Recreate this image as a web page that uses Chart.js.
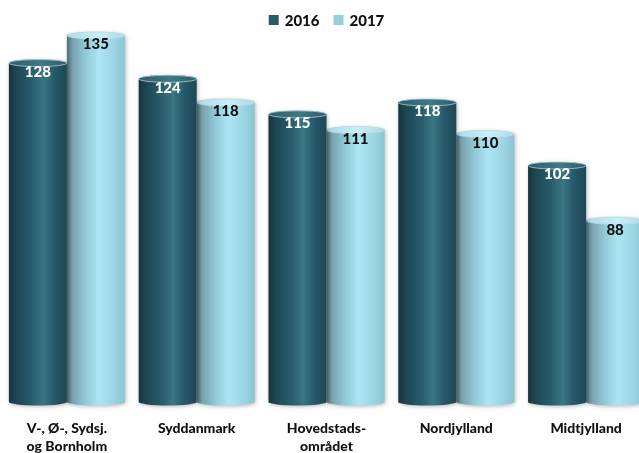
<!DOCTYPE html>
<html lang="da">
<head>
<meta charset="utf-8">
<title>2016 / 2017</title>
<script src="https://cdn.jsdelivr.net/npm/chart.js@4/dist/chart.umd.min.js"></script>
<style>
  html, body { margin: 0; padding: 0; background: #ffffff; overflow: hidden; }
  #wrap { position: absolute; left: 0; top: 0; width: 652px; height: 453px; }
</style>
</head>
<body>
<div id="wrap"><canvas id="chart"></canvas></div>
<script>
// Regions shown along the category axis
const regions = [
  ['V-, Ø-, Sydsj.', 'og Bornholm'],
  ['Syddanmark'],
  ['Hovedstads-', 'området'],
  ['Nordjylland'],
  ['Midtjylland']
];
const seriesNames = ['2016', '2017'];
const values2016 = [128, 124, 115, 118, 102];
const values2017 = [135, 118, 111, 110, 88];

// Cylinder shading: horizontal gradient stops and cap colours per series
const shading = [
  {
    body: [[0, '#15343e'], [0.12, '#1d4652'], [0.4, '#285d6b'], [0.6, '#3b7682'], [0.78, '#27596a'], [1, '#1d4753']],
    cap: ['#2a5e6b', '#3f7a87'],
    label: '#ffffff'
  },
  {
    body: [[0, '#4d6e78'], [0.1, '#79a3af'], [0.32, '#92c9d6'], [0.55, '#ace5f3'], [0.8, '#9cd6e4'], [1, '#8bc3d1']],
    cap: ['#a9dbe7', '#c6f0fa'],
    label: '#111111'
  }
];

const CAP_RY = 3.5;
const TEXT_FONT = 'Lato';

function drawCylinder(ctx, bar, bottom, style) {
  const { x, y, width } = bar.getProps(['x', 'y', 'width'], true);
  const base = bottom;
  const l = x - width / 2, r = x + width / 2, rx = width / 2;
  const g = ctx.createLinearGradient(l, 0, r, 0);
  style.body.forEach(([o, c]) => g.addColorStop(o, c));
  ctx.save();
  ctx.shadowColor = 'rgba(0,0,0,0.28)';
  ctx.shadowBlur = 4;
  ctx.shadowOffsetX = 1;
  ctx.shadowOffsetY = 1;
  ctx.beginPath();
  ctx.moveTo(l, y);
  ctx.lineTo(l, base);
  ctx.ellipse(x, base, rx, CAP_RY, 0, Math.PI, 0, true);
  ctx.lineTo(r, y);
  ctx.ellipse(x, y, rx, CAP_RY, 0, 0, Math.PI, true);
  ctx.closePath();
  ctx.fillStyle = g;
  ctx.fill();
  ctx.restore();

  // top cap
  const cg = ctx.createLinearGradient(l, 0, r, 0);
  cg.addColorStop(0, style.cap[0]);
  cg.addColorStop(0.55, style.cap[1]);
  cg.addColorStop(1, style.cap[0]);
  ctx.save();
  ctx.beginPath();
  ctx.ellipse(x, y, rx, CAP_RY, 0, 0, Math.PI * 2);
  ctx.fillStyle = cg;
  ctx.fill();
  ctx.lineWidth = 0.8;
  ctx.strokeStyle = 'rgba(200,215,220,0.9)';
  ctx.stroke();
  ctx.restore();
}

const cylinderBars = {
  id: 'cylinderBars',
  beforeDatasetDraw(chart, args) {
    const style = shading[args.index];
    const bottom = chart.scales.y.getPixelForValue(chart.scales.y.min);
    args.meta.data.forEach(bar => drawCylinder(chart.ctx, bar, bottom, style));
    return false;
  },
  afterDatasetsDraw(chart) {
    const ctx = chart.ctx;
    ctx.save();
    ctx.font = '900 15px ' + TEXT_FONT;
    ctx.textAlign = 'center';
    ctx.textBaseline = 'middle';
    chart.data.datasets.forEach((ds, i) => {
      const meta = chart.getDatasetMeta(i);
      ctx.fillStyle = shading[i].label;
      meta.data.forEach((bar, j) => {
        const { x, y } = bar.getProps(['x', 'y'], true);
        ctx.fillText(String(ds.data[j]), x, y + 9);
      });
    });
    ctx.restore();
  }
};

// Series key centred above the plot
const seriesKey = {
  id: 'seriesKey',
  afterDraw(chart) {
    const ctx = chart.ctx;
    const box = 10, gap = 6, spacing = 14, cy = 20;
    ctx.save();
    ctx.font = '900 15px ' + TEXT_FONT;
    ctx.textBaseline = 'middle';
    ctx.textAlign = 'left';
    const items = chart.data.datasets.map(ds => ({ text: ds.label, color: ds.backgroundColor, w: ctx.measureText(ds.label).width }));
    const total = items.reduce((s, it) => s + box + gap + it.w, 0) + spacing * (items.length - 1);
    let x = (chart.chartArea.left + chart.chartArea.right) / 2 - total / 2;
    items.forEach(it => {
      ctx.fillStyle = it.color;
      ctx.fillRect(x, cy - box / 2, box, box);
      x += box + gap;
      ctx.fillStyle = '#111111';
      ctx.fillText(it.text, x, cy + 1);
      x += it.w + spacing;
    });
    ctx.restore();
  }
};

new Chart(document.getElementById('chart'), {
  type: 'bar',
  data: {
    labels: regions,
    datasets: [
      { label: seriesNames[0], data: values2016, backgroundColor: '#2a5a68', borderWidth: 0 },
      { label: seriesNames[1], data: values2017, backgroundColor: '#94cfdd', borderWidth: 0 }
    ]
  },
  options: {
    responsive: true,
    maintainAspectRatio: false,
    animation: false,
    events: [],
    layout: { padding: { left: 2, right: 1, top: 0, bottom: 0 } },
    datasets: { bar: { barPercentage: 1, categoryPercentage: 0.894 } },
    scales: {
      x: {
        grid: { display: false, drawTicks: false },
        border: { display: false },
        ticks: {
          color: '#111111',
          padding: 17,
          font: { family: TEXT_FONT, weight: '900', size: 14, lineHeight: 1.3 }
        },
        afterFit(scale) { scale.height = 51; }
      },
      y: {
        display: false,
        min: 42,
        max: 144
      }
    },
    plugins: {
      legend: { display: false },
      tooltip: { enabled: false }
    }
  },
  plugins: [cylinderBars, seriesKey]
});
</script>
</body>
</html>
